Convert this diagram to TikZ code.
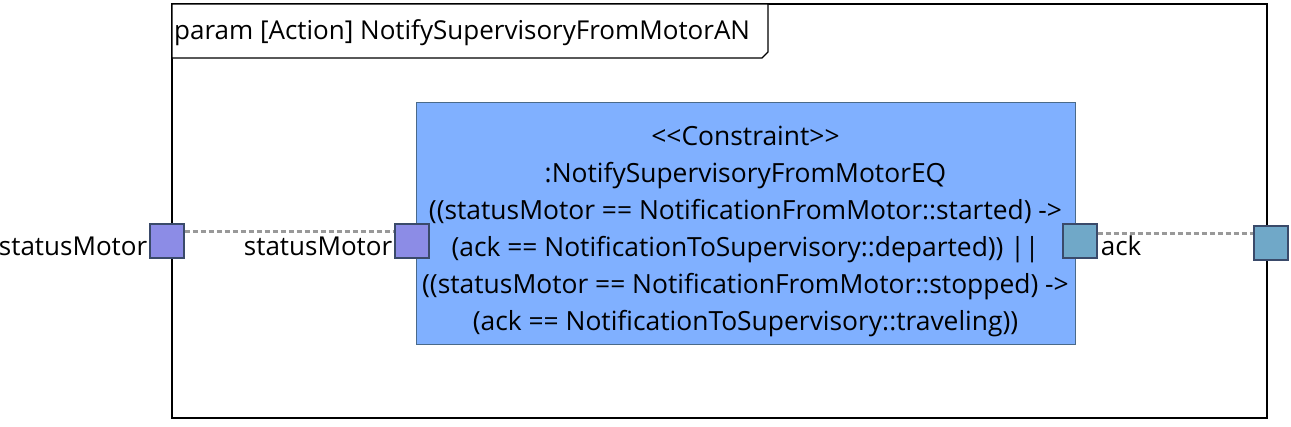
\documentclass[tikz,border=0pt]{standalone}
\usepackage{fontspec}
\setmainfont{Open Sans}
\usepackage{xcolor}
\usetikzlibrary{positioning,calc}
\definecolor{boxblue}{HTML}{80B0FF}
\definecolor{boxline}{HTML}{4A6A8A}
\definecolor{portpurple}{HTML}{8C8CE6}
\definecolor{portteal}{HTML}{70A8C8}
\definecolor{portline}{HTML}{3A4A6A}
\definecolor{wireg}{HTML}{999999}

\begin{document}
\begin{tikzpicture}[
    x=1pt, y=-1pt,
    lbl/.style={inner sep=0pt, font=\fontsize{26}{30}\selectfont},
    port/.style={rectangle, draw=portline, line width=1.2pt, minimum size=34pt, inner sep=0pt},
    cbox/.style={rectangle, draw=boxline, fill=boxblue, line width=0.8pt, minimum width=659pt, minimum height=242pt},
    wire/.style={draw=wireg, line width=3pt, dash pattern=on 5pt off 3pt}
]
\useasboundingbox (0,0) rectangle (1291,426);

% frame and its tab
\draw[line width=1.2pt] (172,4) rectangle (1267,418);
\draw[line width=1.2pt, fill=white] (172,4) -- (768,4) -- (768,52) -- (762,58) -- (172,58) -- cycle;
\node[lbl, anchor=west] (title) at (174,33) {param [Action] NotifySupervisoryFromMotorAN};

% constraint block
\node[cbox] (eq) at (745.5,223) {};
\node[align=center, font=\fontsize{26.4}{37}\selectfont, inner sep=0pt] (eqText) at (745.5,231) {\textless{}\textless{}Constraint\textgreater{}\textgreater\\
:NotifySupervisoryFromMotorEQ\\
((statusMotor == NotificationFromMotor::started) -\textgreater\\
(ack == NotificationToSupervisory::departed)) \textbar\textbar\\
((statusMotor == NotificationFromMotor::stopped) -\textgreater\\
(ack == NotificationToSupervisory::traveling))};

% ports
\node[port, fill=portpurple] (smOuter) at (167,241) {};
\node[port, fill=portpurple] (smInner) at (412,241) {};
\node[port, fill=portteal] (ackInner) at (1080,241) {};
\node[port, fill=portteal] (ackOuter) at (1271,243) {};

% port labels
\node[lbl, anchor=base east] (smOuterLbl) at ([xshift=-2pt,yshift=-14pt]smOuter.west) {statusMotor};
\node[lbl, anchor=base east] (smInnerLbl) at ([xshift=-2pt,yshift=-14pt]smInner.west) {statusMotor};
\node[lbl, anchor=base west] (ackLbl) at ([xshift=3pt,yshift=-14pt]ackInner.east) {ack};

% binding connectors
\draw[wire] ([yshift=10pt]smOuter.east) -- ([yshift=10pt]smOuter.east -| smInner.west);
\draw[wire] ([yshift=8pt]ackInner.east) -- ([yshift=8pt]ackInner.east -| ackOuter.west);
\end{tikzpicture}
\end{document}
